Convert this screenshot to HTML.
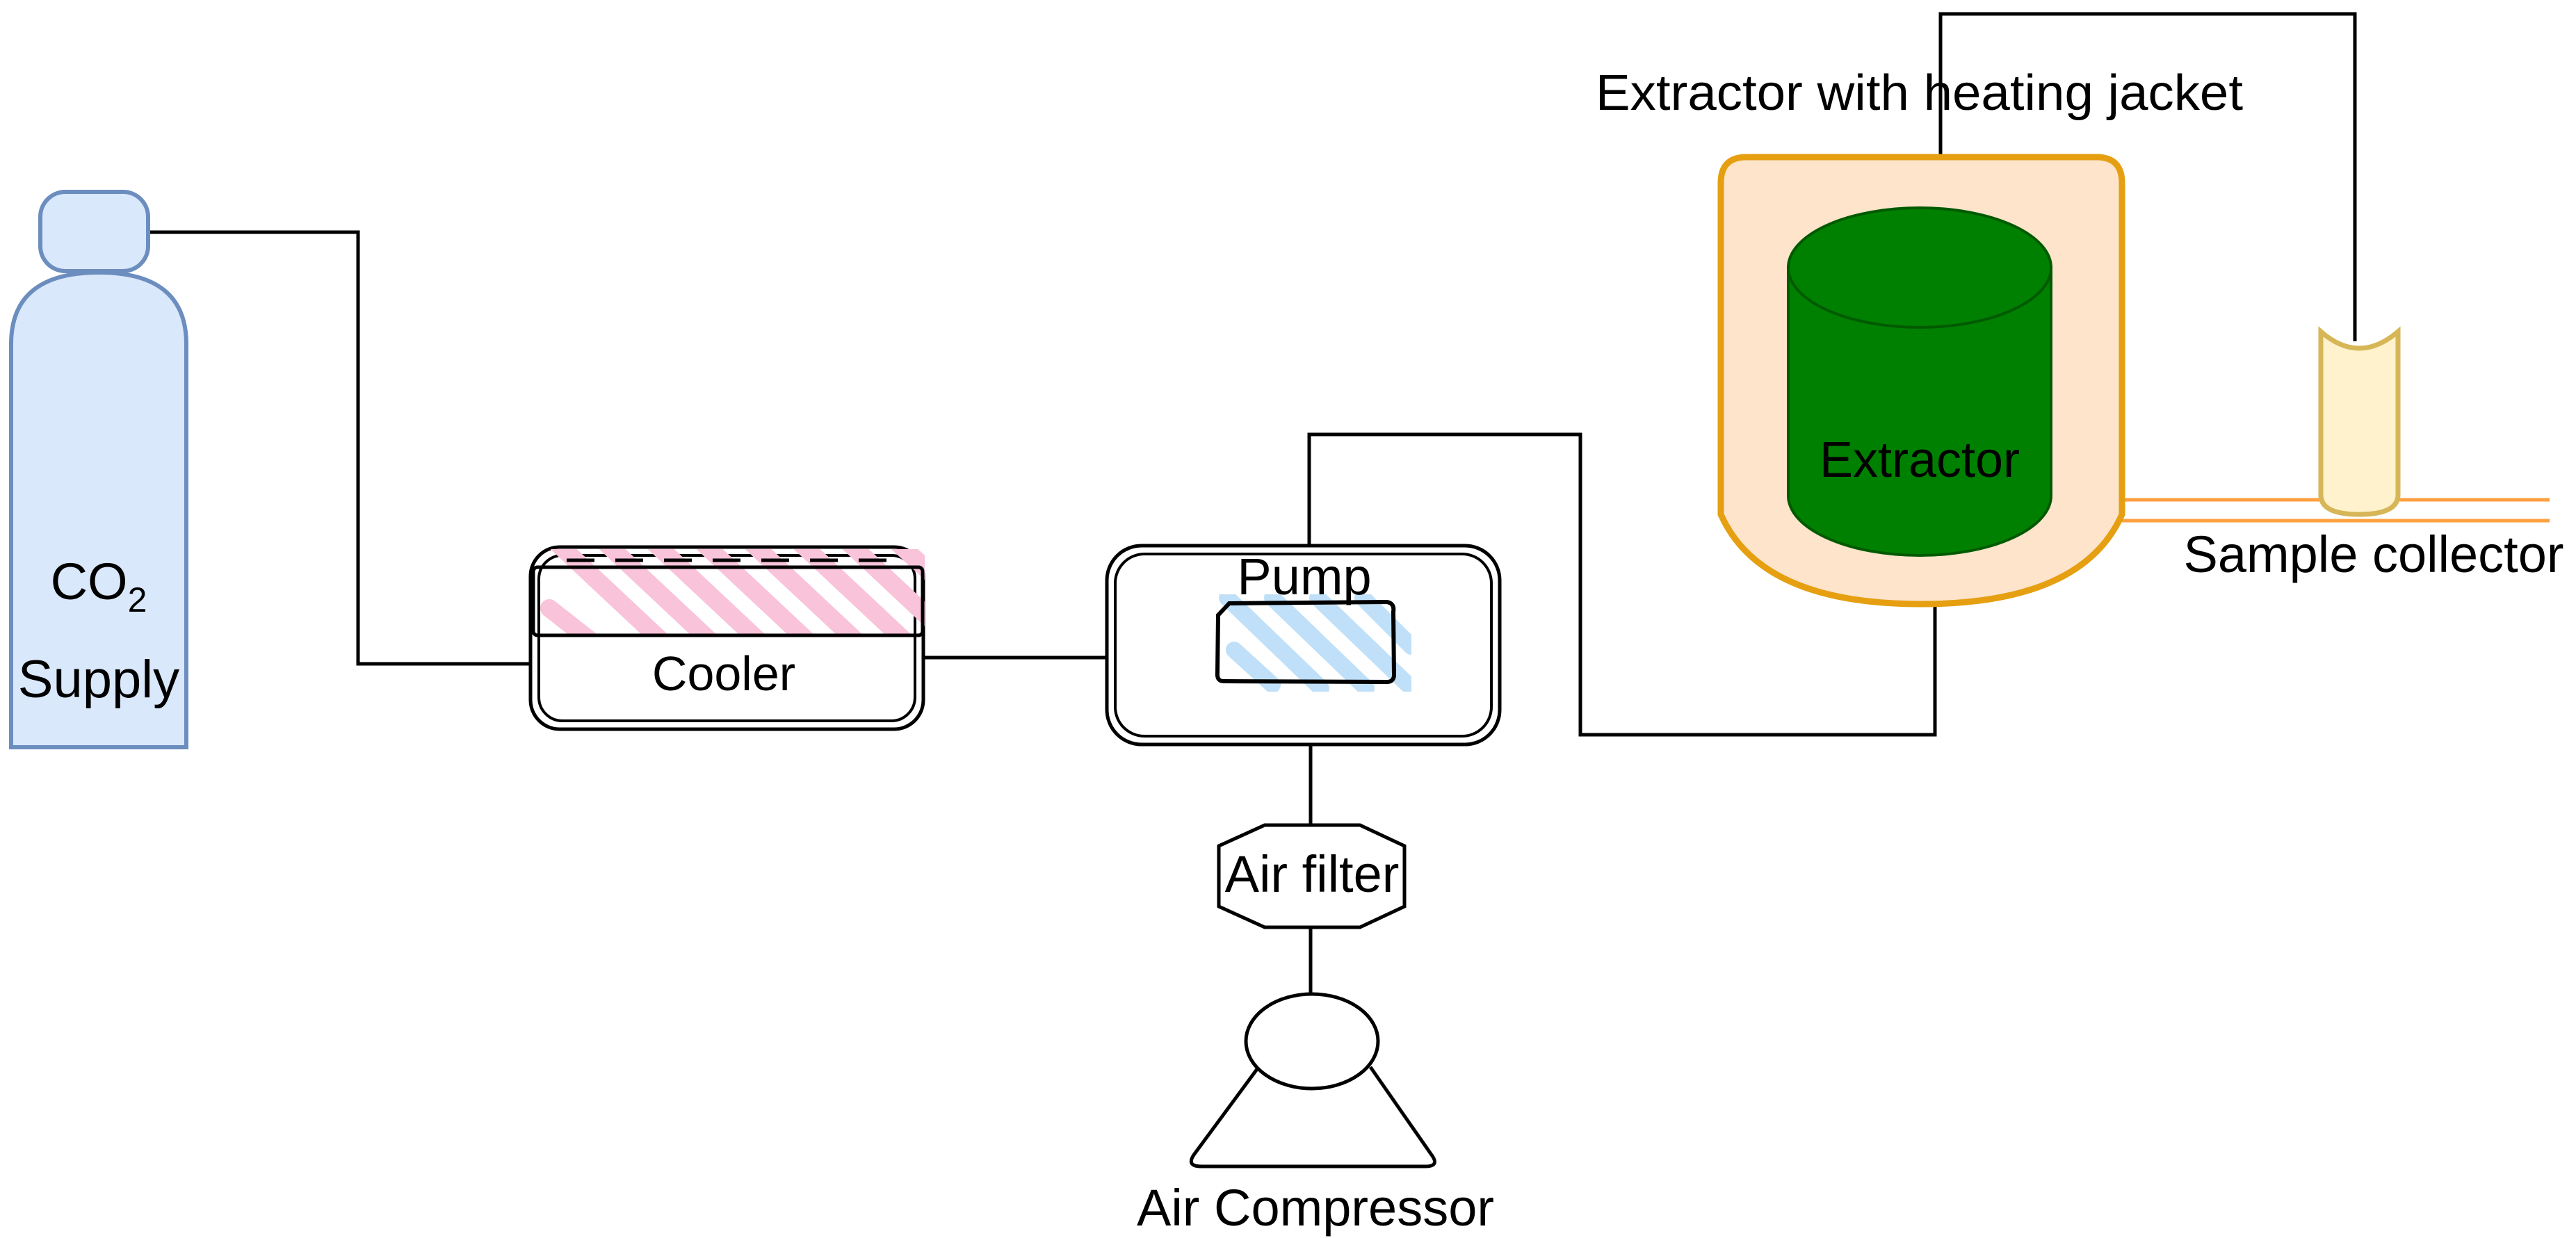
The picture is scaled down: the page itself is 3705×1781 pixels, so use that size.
<!DOCTYPE html>
<html><head><meta charset="utf-8"><style>html,body{margin:0;padding:0;background:#fff}svg{display:block}</style></head>
<body>
<svg width="3705" height="1781" viewBox="0 0 3705 1781" xmlns="http://www.w3.org/2000/svg" font-family="Liberation Sans, Arial, sans-serif">
<defs>
<clipPath id="cc"><rect x="770" y="790" width="560" height="125"/></clipPath>
<clipPath id="pc"><rect x="1740" y="855" width="290" height="140"/></clipPath>
</defs>
<rect width="3705" height="1781" fill="#fff"/>
<g stroke="#000" stroke-width="5" fill="none">
<polyline points="213,334 515,334 515,955 763,955"/>
<line x1="1328" y1="946" x2="1592" y2="946"/>
<polyline points="1883,785 1883,625 2273,625 2273,1057 2783,1057 2783,869"/>
<polyline points="2791,226 2791,20 3387,20 3387,491"/>
<line x1="1885" y1="1071" x2="1885" y2="1187"/>
<line x1="1885" y1="1334" x2="1885" y2="1430"/>
</g>
<g fill="#dae8fc" stroke="#6c8ebf" stroke-width="6">
<path d="M16,1075 L16,495 Q16,392 142,392 Q268,392 268,495 L268,1075 Z"/>
<rect x="58" y="276" width="155" height="114" rx="36"/>
</g>
<text x="142" y="862" font-size="74" text-anchor="middle">CO<tspan font-size="50" dy="18">2</tspan></text>
<text x="142" y="1003" font-size="76" text-anchor="middle">Supply</text>
<rect x="763" y="787" width="565" height="262" rx="42" fill="#fff" stroke="#000" stroke-width="5"/>
<rect x="775" y="799" width="541" height="238" rx="34" fill="none" stroke="#000" stroke-width="4"/>
<g clip-path="url(#cc)" stroke="#f9c3da" stroke-width="26" stroke-linecap="round">
<line x1="790" y1="875" x2="860" y2="930"/>
<line x1="800" y1="780" x2="960" y2="930"/>
<line x1="870" y1="780" x2="1030" y2="930"/>
<line x1="940" y1="780" x2="1100" y2="930"/>
<line x1="1010" y1="780" x2="1170" y2="930"/>
<line x1="1080" y1="780" x2="1240" y2="930"/>
<line x1="1150" y1="780" x2="1310" y2="930"/>
<line x1="1220" y1="780" x2="1380" y2="930"/>
<line x1="1290" y1="780" x2="1400" y2="880"/>
</g>
<line x1="815" y1="806" x2="1285" y2="806" stroke="#000" stroke-width="5" stroke-dasharray="40,30"/>
<rect x="767" y="816" width="560" height="98" rx="6" fill="none" stroke="#000" stroke-width="5"/>
<text x="1041" y="993" font-size="70" text-anchor="middle">Cooler</text>
<rect x="1592" y="785" width="565" height="286" rx="50" fill="#fff" stroke="#000" stroke-width="5"/>
<rect x="1604" y="797" width="541" height="262" rx="42" fill="none" stroke="#000" stroke-width="4"/>
<g clip-path="url(#pc)" stroke="#bfe0f8" stroke-width="24" stroke-linecap="round">
<line x1="1775" y1="935" x2="1830" y2="985"/>
<line x1="1765" y1="860" x2="1900" y2="990"/>
<line x1="1830" y1="860" x2="1965" y2="990"/>
<line x1="1895" y1="860" x2="2025" y2="985"/>
<line x1="1960" y1="860" x2="2030" y2="930"/>
</g>
<path d="M1768,868 L1995,866 Q2006,868 2004,880 L2005,972 Q2004,982 1992,981 L1760,980 Q1750,980 1751,968 L1752,885 Z" fill="none" stroke="#000" stroke-width="6"/>
<text x="1876" y="855" font-size="74" text-anchor="middle">Pump</text>
<polygon points="1819,1187 1956,1187 2020,1217 2020,1304 1956,1334 1819,1334 1753,1304 1753,1217" fill="#fff" stroke="#000" stroke-width="5"/>
<text x="1887" y="1283" font-size="74" text-anchor="middle">Air filter</text>
<path d="M1808,1538 L1718,1660 Q1705,1678 1728,1678 L2050,1678 Q2072,1678 2058,1660 L1971,1535" fill="none" stroke="#000" stroke-width="5"/>
<ellipse cx="1887" cy="1498" rx="95" ry="68" fill="#fff" stroke="#000" stroke-width="5"/>
<text x="1892" y="1763" font-size="74" text-anchor="middle">Air Compressor</text>
<line x1="3052" y1="719" x2="3667" y2="719" stroke="#ffa040" stroke-width="5"/>
<line x1="3052" y1="749" x2="3667" y2="749" stroke="#ffa040" stroke-width="5"/>
<path d="M2475,740 L2475,263 Q2475,226 2512,226 L3015,226 Q3052,226 3052,263 L3052,740 Q2995,869 2763,869 Q2532,869 2475,740 Z" fill="#fde4cb" stroke="#e59f10" stroke-width="9"/>
<path d="M2572,385 L2572,713 A189,86 0 0 0 2950,713 L2950,385 Z" fill="#008000" stroke="#005a00" stroke-width="4"/>
<ellipse cx="2761" cy="385" rx="189" ry="86" fill="#008000" stroke="#005a00" stroke-width="4"/>
<text x="2761" y="686" font-size="72" text-anchor="middle">Extractor</text>
<path d="M3338,477 Q3393,525 3449,477 L3449,712 Q3449,740 3393,740 Q3338,740 3338,712 Z" fill="#fff2cc" stroke="#d6b656" stroke-width="7"/>
<text x="3414" y="823" font-size="74" text-anchor="middle">Sample collector</text>
<text x="2295" y="158" font-size="72" textLength="931" lengthAdjust="spacingAndGlyphs">Extractor with heating jacket</text>
</svg>
</body></html>
